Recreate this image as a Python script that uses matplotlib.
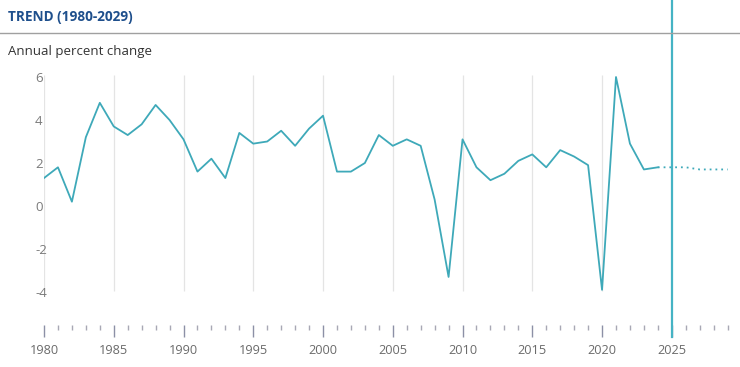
import matplotlib
matplotlib.use("Agg")
import matplotlib.pyplot as plt
from matplotlib.lines import Line2D

plt.rcParams["font.family"] = ["Open Sans", "DejaVu Sans"]

# Annual percent change, actual to 2024 and projected 2025-2029
years = list(range(1980, 2030))
growth = [
    1.3, 1.8, 0.2, 3.2, 4.8, 3.7, 3.3, 3.8, 4.7, 4.0,
    3.1, 1.6, 2.2, 1.3, 3.4, 2.9, 3.0, 3.5, 2.8, 3.6,
    4.2, 1.6, 1.6, 2.0, 3.3, 2.8, 3.1, 2.8, 0.3, -3.3,
    3.1, 1.8, 1.2, 1.5, 2.1, 2.4, 1.8, 2.6, 2.3, 1.9,
    -3.9, 6.0, 2.9, 1.7, 1.8, 1.8, 1.8, 1.7, 1.7, 1.7,
]
last_actual = 2024
current_year = 2025
title = "TREND (1980-2029)"
ylabel = "Annual percent change"
yticks = [-4, -2, 0, 2, 4, 6]
grid_years = list(range(1980, 2025, 5))

W, H = 740, 367
fig = plt.figure(figsize=(W / 100, H / 100), dpi=100)

# axes placed in pixel terms: 1980 at x=44, 2029 at x=727; y=0 at px 206
left, right = 44, 727.6
bottom_px, top_px = 325, 70
ax = fig.add_axes([left / W, 1 - bottom_px / H, (right - left) / W, (bottom_px - top_px) / H])
ax.set_xlim(1980, 2029)
px_per_unit = 21.5
ax.set_ylim((206 - bottom_px) / px_per_unit, (206 - top_px) / px_per_unit)

for s in ax.spines.values():
    s.set_visible(False)

line_color = "#3ea9b9"
i_last = years.index(last_actual)
ax.plot(years[: i_last + 1], growth[: i_last + 1], color=line_color, lw=1.3, zorder=3)
ax.plot(years[i_last:], growth[i_last:], color=line_color, lw=1.3, ls=(0, (1, 2.2)), zorder=3)

# light vertical grid
ax.vlines(grid_years, -3.95, 6.1, color="#e4e4e4", lw=0.9, zorder=1)

# current-year marker running up to the top of the figure
ax.axvline(current_year, ymin=-12 / 255, ymax=325 / 255, color="#45b3c4", lw=1.6, clip_on=False, zorder=4)

ax.set_yticks(yticks)
ax.set_yticklabels([str(v) for v in yticks], ha="left")
ax.tick_params(axis="y", length=0, pad=6.5, labelsize=9.5, labelcolor="#7a7a7a")

ax.set_xticks(range(1980, 2030, 5))
ax.set_xticks(range(1980, 2030), minor=True)
ax.tick_params(axis="x", which="major", direction="out", length=8.6, width=1,
               color="#8c90a6", pad=5, labelsize=9.2, labelcolor="#6b6b6b")
ax.tick_params(axis="x", which="minor", direction="out", length=3.6, width=1, color="#a8a8b4")

fig.text(8 / W, 1 - 17 / H, title, fontsize=9.8, fontweight="bold", color="#1e4f8c", va="center")
fig.add_artist(Line2D([0, 1], [1 - 33 / H, 1 - 33 / H], color="#a0a0a0", lw=1, transform=fig.transFigure))
fig.text(8 / W, 1 - 52 / H, ylabel, fontsize=9.5, color="#333333", va="center")

fig.savefig("out.png", dpi=100)
